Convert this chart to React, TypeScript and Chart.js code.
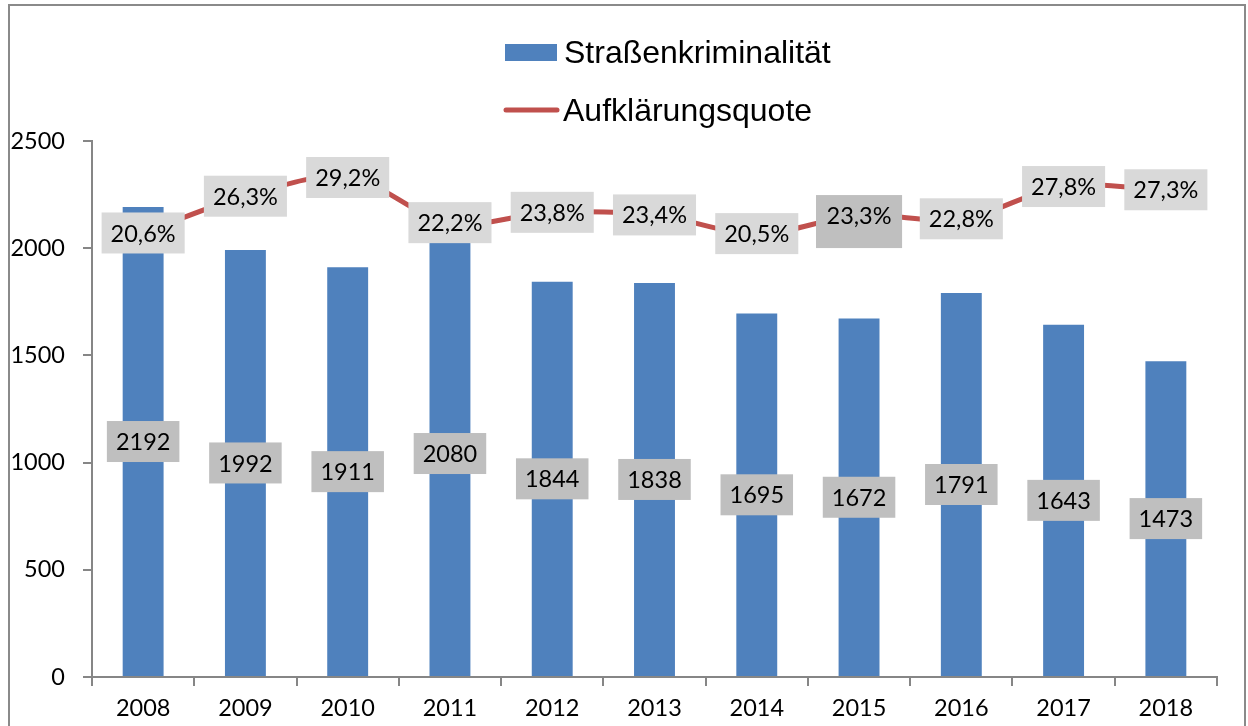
import React, { useEffect, useRef } from 'react';
import { Chart, registerables } from 'chart.js';

Chart.register(...registerables);

const YEARS = ['2008', '2009', '2010', '2011', '2012', '2013', '2014', '2015', '2016', '2017', '2018'];
const CASES = [2192, 1992, 1911, 2080, 1844, 1838, 1695, 1672, 1791, 1643, 1473];
const RATES = [20.6, 26.3, 29.2, 22.2, 23.8, 23.4, 20.5, 23.3, 22.8, 27.8, 27.3];
const BAR_NAME = 'Straßenkriminalität';
const LINE_NAME = 'Aufklärungsquote';
const Y_MIN = 0;
const Y_MAX = 2500;
const Y_STEP = 500;
// hidden secondary axis range for the rate line
const RATE_AXIS_MIN = -48.24;
const RATE_AXIS_MAX = 34.86;

const BAR_COLOR = '#4F81BD';
const LINE_COLOR = '#C0504D';
const AXIS_COLOR = '#868686';
const FONT_SIZE = 23.5;
const LABEL_FONT = `${FONT_SIZE}px Lato, "Open Sans", sans-serif`;

const fmtRate = (v: number) => v.toFixed(1).replace('.', ',') + '%';

const labelPlugin = {
  id: 'boxLabels',
  afterDatasetsDraw(chart: any) {
    const ctx = chart.ctx as CanvasRenderingContext2D;
    ctx.save();
    ctx.font = LABEL_FONT;
    ctx.textAlign = 'center';
    ctx.textBaseline = 'middle';
    const barMeta = chart.getDatasetMeta(0);
    barMeta.data.forEach((el: any, i: number) => {
      const text = String(CASES[i]);
      const w = ctx.measureText(text).width + 18;
      const cy = (el.y + el.base) / 2;
      ctx.fillStyle = '#BFBFBF';
      ctx.fillRect(el.x - w / 2, cy - 20.5, w, 41);
      ctx.fillStyle = '#000';
      ctx.fillText(text, el.x, cy + 1);
    });
    const lineMeta = chart.getDatasetMeta(1);
    lineMeta.data.forEach((el: any, i: number) => {
      const text = fmtRate(RATES[i]);
      const special = i === 7;
      const w = ctx.measureText(text).width + 18 + (special ? 3 : 0);
      const top = el.y - 20.5;
      const h = special ? 53 : 41;
      ctx.fillStyle = special ? '#BFBFBF' : '#D9D9D9';
      ctx.fillRect(el.x - w / 2, top, w, h);
      ctx.fillStyle = '#000';
      ctx.fillText(text, el.x, el.y + 1);
    });
    ctx.restore();
  },
};

const legendPlugin = {
  id: 'stackedLegend',
  afterDraw(chart: any) {
    const ctx = chart.ctx as CanvasRenderingContext2D;
    const ds = chart.data.datasets;
    ctx.save();
    ctx.font = '32px "Liberation Sans", Arial, sans-serif';
    ctx.textAlign = 'left';
    ctx.textBaseline = 'alphabetic';
    ctx.fillStyle = ds[0].backgroundColor;
    ctx.fillRect(505, 44, 52, 17);
    ctx.fillStyle = '#000';
    ctx.fillText(ds[0].label, 564, 63);
    ctx.strokeStyle = ds[1].borderColor;
    ctx.lineWidth = 5;
    ctx.lineCap = 'round';
    ctx.beginPath();
    ctx.moveTo(506, 110);
    ctx.lineTo(557, 110);
    ctx.stroke();
    ctx.fillStyle = '#000';
    ctx.fillText(ds[1].label, 563, 121);
    ctx.restore();
  },
};

export default function App() {
  const ref = useRef<HTMLCanvasElement>(null);
  useEffect(() => {
    if (!ref.current) return;
    const chart = new Chart(ref.current, {
      type: 'bar',
      data: {
        labels: YEARS,
        datasets: [
          {
            type: 'bar',
            label: BAR_NAME,
            data: CASES,
            backgroundColor: BAR_COLOR,
            barPercentage: 0.4,
            categoryPercentage: 1.0,
            yAxisID: 'y',
            order: 2,
          },
          {
            type: 'line',
            label: LINE_NAME,
            data: RATES,
            borderColor: LINE_COLOR,
            backgroundColor: LINE_COLOR,
            borderWidth: 5,
            pointRadius: 0,
            tension: 0.35,
            yAxisID: 'y2',
            order: 1,
          },
        ] as any,
      },
      options: {
        responsive: false,
        animation: false,
        layout: { padding: { top: 141, right: 31, left: 0, bottom: 0 } },
        plugins: {
          legend: { display: false },
          tooltip: { enabled: false },
        },
        scales: {
          x: {
            offset: true,
            grid: {
              display: true,
              drawOnChartArea: false,
              drawTicks: true,
              tickLength: 9,
              color: AXIS_COLOR,
              lineWidth: 2,
              offset: true,
            },
            border: { display: true, color: AXIS_COLOR, width: 2 },
            ticks: { color: '#000', font: { family: 'Lato', size: FONT_SIZE }, padding: 8, maxRotation: 0 },
            afterFit: (s: any) => { s.height = 49; },
          },
          y: {
            position: 'left',
            min: Y_MIN,
            max: Y_MAX,
            ticks: {
              stepSize: Y_STEP,
              color: '#000',
              font: { family: 'Lato', size: FONT_SIZE },
              padding: 18,
              callback: (v: any) => String(v),
            },
            grid: {
              display: true,
              drawOnChartArea: false,
              drawTicks: true,
              tickLength: 9,
              color: AXIS_COLOR,
              lineWidth: 2,
            },
            border: { display: true, color: AXIS_COLOR, width: 2 },
            afterFit: (s: any) => { s.width = 92; },
          },
          y2: {
            display: false,
            position: 'right',
            min: RATE_AXIS_MIN,
            max: RATE_AXIS_MAX,
          },
        },
      } as any,
      plugins: [labelPlugin, legendPlugin],
    });
    return () => chart.destroy();
  }, []);

  return (
    <div style={{ position: 'absolute', left: 0, top: 0, width: 1248, height: 726, overflow: 'hidden', background: '#fff' }}>
      <canvas ref={ref} width={1248} height={726} style={{ position: 'absolute', left: 0, top: 0, width: 1248, height: 726 }} />
      <div
        style={{
          position: 'absolute',
          left: 8,
          top: 4,
          width: 1238,
          height: 760,
          boxSizing: 'border-box',
          border: '2px solid #8A8A8A',
          pointerEvents: 'none',
        }}
      />
    </div>
  );
}
